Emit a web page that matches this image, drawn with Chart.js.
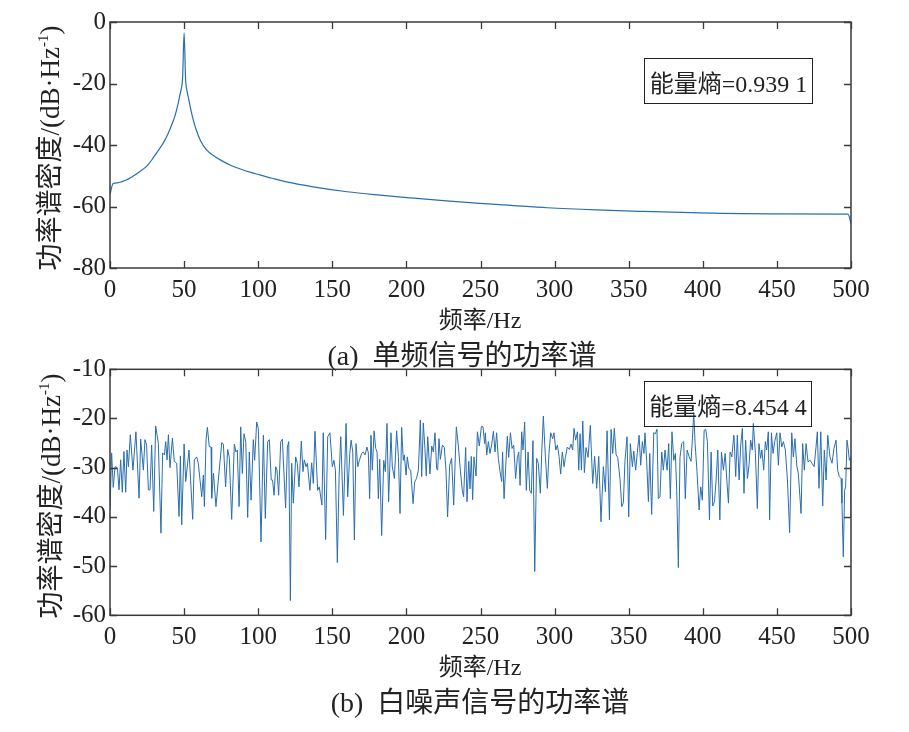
<!DOCTYPE html>
<html>
<head>
<meta charset="utf-8">
<script src="https://cdn.jsdelivr.net/npm/chart.js@4.4.1/dist/chart.umd.min.js"></script>
<style>
  html, body { margin: 0; padding: 0; background: #fff; }
  #wrap { position: relative; width: 909px; height: 732px; background: #fff; overflow: hidden; }
  canvas { position: absolute; left: 0; }
  .t { position: absolute; white-space: nowrap; color: #222;
       font-family: "Liberation Serif", "Noto Sans CJK SC", serif; transform: translate(-50%, -50%); }
  .ylab { font-size: 27px; transform: translate(-50%, -50%) rotate(-90deg); }
  .ylab sup { font-size: 15px; vertical-align: 11px; line-height: 0; }
  .xlab { font-size: 24px; }
  .cap { font-size: 28px; }
  .box { position: absolute; border: 1.2px solid #222; box-sizing: border-box; color: #222;
         font-family: "Liberation Serif", "Noto Sans CJK SC", serif; font-size: 24px;
         display: flex; align-items: center; justify-content: center; white-space: nowrap; }
</style>
</head>
<body>
<div id="wrap">
  <canvas id="c1" width="909" height="320" style="top:0px"></canvas>
  <canvas id="c2" width="909" height="330" style="top:340px"></canvas>

  <div class="t ylab" style="left:47px; top:148px;">功率谱密度/(dB·Hz<sup>-1</sup>)</div>
  <div class="t xlab" style="left:480px; top:317px;">频率/Hz</div>
  <div class="t cap" style="left:462px; top:353px;">(a)&nbsp; 单频信号的功率谱</div>
  <div class="box" style="left:644px; top:58px; width:169px; height:46px;">能量熵=0.939 1</div>

  <div class="t ylab" style="left:48px; top:496px;">功率谱密度/(dB·Hz<sup>-1</sup>)</div>
  <div class="t xlab" style="left:480px; top:664px;">频率/Hz</div>
  <div class="t cap" style="left:480px; top:700px;">(b)&nbsp; 白噪声信号的功率谱</div>
  <div class="box" style="left:644px; top:381px; width:168px; height:46px;">能量熵=8.454 4</div>
</div>

<script>
// ---------- data ----------
const freqTicks = [0, 50, 100, 150, 200, 250, 300, 350, 400, 450, 500];
const toneTicks = [-80, -60, -40, -20, 0];
const noiseTicks = [-60, -50, -40, -30, -20, -10];

// (a) single-tone power spectrum
const toneFreq = [0, 2, 5, 8, 11, 15, 20, 25, 29, 33, 36, 39, 42, 44, 46, 47, 48, 49, 50,
  51, 52, 53, 54, 56, 58, 61, 65, 70, 75, 81, 88, 95, 101, 110, 120, 137, 160, 182, 205,
  227, 250, 272, 295, 328, 360, 398, 450, 498, 500];
const toneDb = [-56, -52.6, -52.3, -51.9, -51.4, -50.3, -48.7, -46.8, -44.3, -41.5, -39.3, -36.5, -33.0, -30.3, -26.5, -24.0, -22.0, -18.0, -3.5,
  -18.5, -22.5, -24.8, -27.3, -31.5, -34.8, -38.5, -41.5, -43.5, -45.0, -46.5, -47.8, -48.9, -49.7, -50.9, -52.1, -53.6, -55.2, -56.3, -57.3,
  -58.2, -59.0, -59.7, -60.4, -61.1, -61.6, -62.1, -62.4, -62.5, -65.5];

// (b) white-noise power spectrum
const noiseFreq = [
  0, 1.1, 2.2, 3.4, 5.0, 6.1, 7.2, 8.3, 9.4, 10.6, 11.5, 12.4, 13.7, 15.5, 17.5, 19.6, 20.7, 22.5, 23.6, 24.7,
  25.9, 27.0, 28.1, 29.5, 30.8, 32.6, 34.4, 35.5, 36.7, 37.6, 38.5, 39.4, 40.5, 42.1, 43.4, 45.0, 46.6, 47.5, 48.4, 50.0,
  51.1, 53.3, 55.8, 56.9, 58.5, 59.6, 61.9, 63.0, 63.7, 64.8, 65.7, 67.0, 68.2, 68.6, 69.8, 71.5, 73.1, 75.4, 76.5, 78.0,
  79.4, 80.5, 82.1, 83.9,
  85.0, 85.9, 87.1, 88.2, 89.3, 90.4, 91.6, 92.9, 94.0, 95.2, 96.7, 97.6, 99.0, 100.1, 101.9, 103.5, 104.8, 106.4, 107.5, 108.8,
  109.7, 110.7, 111.8, 112.7, 113.8, 115.2, 116.3, 118.5, 119.7, 120.6, 121.7, 122.6, 123.7, 125.3, 126.4, 127.5, 129.1, 130.2, 131.1, 132.3,
  133.2, 134.9, 136.1, 137.2, 138.3, 140.1, 141.2, 143.0, 143.9, 145.5, 146.9, 148.4, 150.0, 151.1, 152.1, 153.4, 154.6, 155.7, 157.5, 159.3,
  160.4, 161.8, 162.7, 163.8, 164.9, 166.0, 167.2, 168.3,
  169.8, 170.9, 172.1, 173.4, 174.3, 175.2, 176.1, 177.0, 178.2, 179.3, 180.2, 181.1, 182.0, 183.3, 184.7, 185.8, 186.9, 188.0, 189.6, 190.5,
  191.9, 193.4, 194.6, 195.7, 196.8, 197.9, 198.6, 199.8, 200.6, 201.7, 202.9, 204.5, 205.6, 206.8, 208.1, 209.4, 210.3, 211.4, 212.5, 213.4,
  214.4, 215.9, 217.1, 218.2, 219.3, 220.4, 221.1, 222.0, 222.9, 224.3, 225.6, 226.7, 227.8, 229.2, 230.5, 231.9, 233.7, 235.0, 236.4, 237.7,
  238.6, 240.0, 240.9, 242.1, 242.9, 243.8, 244.7, 245.6, 247.0, 247.9, 249.2, 250.6, 251.7, 252.8,
  253.3, 254.2, 255.3, 256.4, 257.6, 258.7, 259.8, 260.9, 262.0, 263.2, 264.3, 264.9, 265.9, 267.0, 268.1, 269.0, 270.2, 271.3, 272.4, 273.7,
  274.9, 275.8, 276.7, 277.8, 278.7, 279.8, 280.9, 282.1, 283.2, 284.3, 285.4, 286.6, 287.9, 289.0, 290.4, 291.3, 292.4, 293.8, 295.1, 296.2,
  297.4, 298.7, 299.6, 300.8, 301.9, 303.0, 304.1, 305.2, 306.4, 307.3, 308.6, 310.0, 311.1, 312.2, 313.1, 314.2, 315.4, 316.3, 317.2, 318.1,
  319.0, 320.1, 321.2, 322.6, 324.1, 325.7, 327.0, 328.4, 329.8, 331.3, 332.9, 334.3, 335.4, 337.0,
  338.1, 339.2, 340.3, 341.5, 342.6, 344.1, 345.3, 346.4, 347.5, 348.9, 350.0, 351.1, 352.5, 353.4, 354.7, 355.9, 357.0, 358.1, 359.2, 360.3,
  361.0, 362.1, 363.3, 364.2, 365.5, 366.9, 368.0, 369.1, 370.0, 371.1, 372.3, 373.4, 374.5, 375.9, 377.0, 378.1, 379.2, 380.4, 381.5, 382.4,
  383.5, 384.6, 385.8, 387.1, 388.2, 389.4, 390.7, 392.1, 393.0, 393.9, 394.8, 396.1, 397.5, 398.6, 399.7, 400.9, 402.0, 403.1, 404.5, 405.6,
  406.7, 407.9, 409.0, 410.1, 411.5, 412.6, 413.9, 415.1, 416.2, 417.3, 418.4, 419.6, 420.9,
  421.1, 422.2, 423.3, 424.5, 425.6, 426.7, 427.8, 428.9, 430.1, 431.2, 432.3, 433.4, 434.1, 435.5, 436.8, 437.9, 439.0, 439.9, 441.1, 442.2,
  443.1, 444.2, 445.1, 446.3, 447.4, 448.5, 449.9, 451.0, 452.1, 453.3, 454.4, 455.7, 457.1, 458.6, 460.0, 461.1, 462.2, 463.4, 464.5, 466.3,
  467.4, 468.5, 469.7, 471.0, 472.4, 473.7, 475.1, 476.4, 477.3, 478.4, 479.6, 480.9, 482.0, 483.2, 484.3, 485.8, 487.2, 488.5, 489.9, 491.0,
  492.1, 493.3, 493.9, 494.8, 495.7, 496.4, 497.3, 498.2, 498.9, 499.8, 500
];
const noiseDb = [
  -38.6, -27.0, -34.0, -29.8, -30.0, -34.5, -28.4, -35.0, -26.7, -35.0, -26.4, -29.8, -23.3, -30.5, -22.7, -36.2, -24.2, -30.5, -24.3, -25.4,
  -34.5, -34.5, -25.4, -38.9, -21.5, -25.0, -43.3, -27.0, -27.4, -24.7, -28.4, -23.3, -30.0, -24.0, -28.7, -29.1, -39.9, -27.6, -41.6, -25.2,
  -32.8, -26.4, -40.5, -28.4, -27.8, -29.1, -35.9, -31.5, -37.9, -24.3, -21.8, -25.7, -25.8, -36.2, -31.1, -37.9, -32.5, -24.9, -25.2, -33.9,
  -26.3, -27.9, -40.5, -25.2,
  -26.8, -26.4, -37.9, -21.7, -31.2, -23.1, -24.7, -40.1, -26.8, -36.6, -24.3, -28.5, -20.7, -22.0, -45.1, -23.4, -40.3, -24.7, -24.3, -32.5,
  -32.5, -35.6, -29.8, -30.5, -35.6, -24.7, -24.2, -38.2, -25.8, -24.7, -57.0, -29.1, -37.2, -27.8, -29.1, -33.9, -24.6, -30.8, -28.4, -29.8,
  -29.1, -34.6, -29.0, -33.2, -22.6, -34.6, -33.9, -37.6, -22.9, -44.6, -23.7, -22.9, -29.8, -28.5, -30.5, -49.3, -31.8, -23.7, -39.7, -21.0,
  -35.9, -27.1, -24.4, -26.8, -44.7, -25.1, -29.8, -28.5,
  -27.1, -26.8, -27.4, -25.8, -27.0, -36.3, -23.4, -30.5, -22.5, -26.1, -26.8, -36.3, -28.3, -43.8, -28.5, -30.8, -21.0, -36.9, -22.9, -29.8,
  -32.2, -22.5, -27.7, -39.3, -21.8, -28.5, -27.4, -31.5, -27.8, -30.2, -30.5, -37.3, -32.9, -32.2, -30.5, -20.3, -31.8, -20.9, -26.1, -31.7,
  -23.7, -31.3, -25.6, -26.8, -22.9, -30.2, -30.5, -24.1, -28.3, -25.4, -25.9, -30.5, -40.0, -29.5, -28.1, -37.6, -21.7, -25.4, -30.5, -34.6,
  -35.9, -25.9, -36.9, -28.7, -34.3, -27.7, -36.5, -27.8, -31.7, -22.7, -25.6, -21.6, -21.7, -25.1,
  -22.9, -27.4, -24.7, -27.1, -25.2, -22.6, -26.8, -22.9, -28.1, -30.8, -32.8, -26.8, -36.3, -29.8, -23.6, -27.9, -22.9, -26.1, -25.4, -32.2,
  -27.9, -26.8, -33.6, -22.7, -26.4, -20.7, -34.6, -26.8, -34.6, -35.2, -24.5, -51.1, -28.1, -29.1, -35.2, -27.1, -19.5, -27.8, -34.2, -27.1,
  -22.9, -24.1, -22.9, -26.4, -25.4, -27.7, -31.3, -26.8, -29.8, -27.9, -25.8, -26.3, -25.2, -26.4, -22.0, -24.4, -22.7, -30.5, -23.1, -30.5,
  -20.5, -31.0, -25.9, -27.9, -21.4, -33.2, -27.7, -34.2, -27.7, -41.0, -29.8, -34.9, -22.5, -40.6,
  -22.2, -27.1, -22.0, -27.4, -27.9, -32.2, -37.9, -37.1, -28.5, -23.7, -40.0, -25.1, -29.8, -26.6, -30.5, -26.6, -23.4, -29.5, -24.7, -27.1,
  -22.9, -28.5, -36.9, -27.1, -39.5, -22.9, -23.1, -22.2, -36.3, -35.9, -26.8, -30.5, -26.4, -30.5, -25.1, -36.3, -22.7, -28.5, -27.1, -34.6,
  -50.3, -27.9, -25.1, -24.7, -36.3, -26.4, -27.7, -28.7, -24.1, -18.8, -25.1, -30.8, -38.6, -33.9, -36.6, -22.4, -22.2, -24.7, -40.6, -26.8,
  -37.8, -36.9, -32.5, -26.4, -40.6, -26.8, -30.5, -27.1, -32.5, -37.2, -26.8, -27.8, -23.4,
  -23.7, -31.8, -23.4, -32.5, -25.4, -22.0, -35.2, -24.4, -32.2, -29.5, -24.4, -26.4, -21.0, -27.1, -38.3, -25.1, -28.1, -26.4, -30.5, -24.7,
  -26.4, -22.7, -40.6, -22.9, -27.1, -24.7, -22.9, -29.5, -22.9, -25.8, -24.7, -26.4, -32.5, -43.2, -22.9, -27.8, -24.1, -29.5, -31.3, -39.3,
  -25.1, -30.5, -25.1, -28.8, -28.5, -29.1, -29.8, -25.8, -22.7, -34.2, -22.7, -37.8, -26.4, -32.5, -23.4, -27.8, -29.1, -26.1, -24.4, -30.5,
  -31.8, -32.2, -37.2, -48.1, -34.6, -33.9, -24.4, -26.4, -28.5, -27.9, -40.0
];

// ---------- drawing ----------
const LINE = '#2a6eaf';
const AXIS = '#3a3a3a';
const TXT = '#222';
const tickFont = { family: '"Liberation Serif", serif', size: 25 };

const framePlugin = {
  id: 'frame',
  afterDatasetsDraw(chart) {
    const ctx = chart.ctx;
    const { left, right, top, bottom } = chart.chartArea;
    const xs = chart.scales.x, ys = chart.scales.y;
    const L = 7;
    ctx.save();
    ctx.strokeStyle = AXIS;
    ctx.lineWidth = 1.3;
    ctx.beginPath();
    xs.ticks.forEach(t => {
      const p = Math.round(xs.getPixelForValue(t.value)) + 0.5;
      ctx.moveTo(p, bottom); ctx.lineTo(p, bottom - L);
      ctx.moveTo(p, top); ctx.lineTo(p, top + L);
    });
    ys.ticks.forEach(t => {
      const p = Math.round(ys.getPixelForValue(t.value)) + 0.5;
      ctx.moveTo(left, p); ctx.lineTo(left + L, p);
      ctx.moveTo(right, p); ctx.lineTo(right - L, p);
    });
    ctx.stroke();
    ctx.lineWidth = 1.5;
    ctx.strokeRect(left, top, right - left, bottom - top);
    ctx.restore();
  }
};

function makeChart(id, xs, ys, yTicks, padTop, xHeight, lw, smooth) {
  const pts = xs.map((f, i) => ({ x: f, y: ys[i] }));
  const ds = { data: pts, borderColor: LINE, borderWidth: lw, pointRadius: 0, tension: 0, fill: false };
  if (smooth) ds.cubicInterpolationMode = 'monotone';
  return new Chart(document.getElementById(id), {
    type: 'line',
    data: { datasets: [ds] },
    options: {
      responsive: false,
      animation: false,
      events: [],
      layout: { padding: { top: padTop, right: 58, left: 0, bottom: 0 } },
      plugins: { legend: { display: false }, tooltip: { enabled: false } },
      scales: {
        x: {
          type: 'linear', min: freqTicks[0], max: freqTicks[freqTicks.length - 1],
          afterBuildTicks: s => { s.ticks = freqTicks.map(v => ({ value: v })); },
          afterFit: s => { s.height = xHeight; },
          grid: { display: false, drawTicks: false },
          border: { display: false },
          ticks: { font: tickFont, color: TXT, padding: 7, maxRotation: 0, autoSkip: false }
        },
        y: {
          type: 'linear', min: yTicks[0], max: yTicks[yTicks.length - 1],
          afterBuildTicks: s => { s.ticks = yTicks.map(v => ({ value: v })); },
          afterFit: s => { s.width = 110; },
          grid: { display: false, drawTicks: false },
          border: { display: false },
          ticks: { font: tickFont, color: TXT, padding: 4, autoSkip: false }
        }
      }
    },
    plugins: [framePlugin]
  });
}

makeChart('c1', toneFreq, toneDb, toneTicks, 22, 52, 1.2, true);
makeChart('c2', noiseFreq, noiseDb, noiseTicks, 29.3, 54.7, 1.0, false);
</script>
</body>
</html>
